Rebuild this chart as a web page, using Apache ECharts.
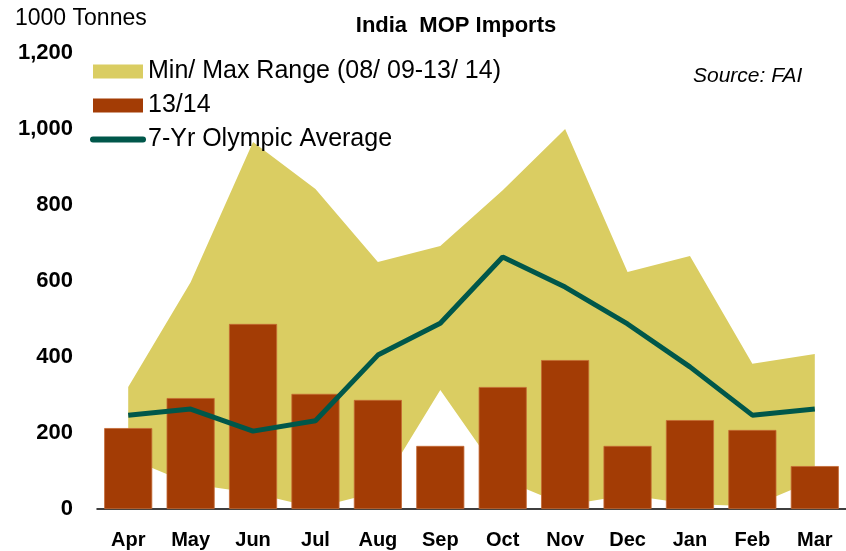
<!DOCTYPE html>
<html>
<head>
<meta charset="utf-8">
<script src="https://cdn.jsdelivr.net/npm/echarts@6/dist/echarts.min.js"></script>
<style>
  html, body { margin: 0; padding: 0; background: #fff; }
  #chart { width: 846px; height: 551px; }
</style>
</head>
<body>
<div id="chart"></div>
<script>
// months of the fertiliser year
const months = ['Apr', 'May', 'Jun', 'Jul', 'Aug', 'Sep', 'Oct', 'Nov', 'Dec', 'Jan', 'Feb', 'Mar']
// min / max range 08/09-13/14 (1000 tonnes)
const rangeMax = [321, 597, 966, 842, 650, 692, 839, 1000, 624, 666, 382, 408]
const rangeMin = [134, 66, 42, 3, 45, 313, 78, 10, 37, 13, 7, 76]
// 13/14 imports
const imports1314 = [213, 292, 487, 303, 287, 166, 321, 392, 166, 234, 208, 113]
// 7-yr olympic average
const olympicAvg = [247, 263, 205, 232, 405, 489, 663, 584, 487, 374, 247, 263]

const rangeName = 'Min/ Max Range (08/ 09-13/ 14)'
const barName = '13/14'
const lineName = '7-Yr Olympic Average'

const rangeSpan = rangeMax.map((v, i) => v - rangeMin[i])

const chart = echarts.init(document.getElementById('chart'))
chart.setOption({
  animation: false,
  textStyle: { fontFamily: 'Liberation Sans, Arial, sans-serif' },
  graphic: [
    {
      type: 'text', left: 15, top: 7,
      style: { text: '1000 Tonnes', font: '23px Liberation Sans', fill: '#000' }
    },
    {
      type: 'text', x: 456, y: 26,
      style: { text: 'India  MOP Imports', font: 'bold 22px Liberation Sans', fill: '#000', align: 'center', verticalAlign: 'middle' }
    },
    {
      type: 'text', x: 693, y: 76,
      style: { text: 'Source: FAI', font: 'italic 21px Liberation Sans', fill: '#000', align: 'left', verticalAlign: 'middle' }
    }
  ],
  legend: {
    orient: 'vertical',
    left: 90,
    top: 59,
    padding: 0,
    itemWidth: 50,
    itemHeight: 14,
    itemGap: 9,
    selectedMode: false,
    textStyle: { fontSize: 25, color: '#000', padding: [0, 0, 0, 0] },
    data: [
      { name: rangeName, icon: 'rect', itemStyle: { borderWidth: 0 } },
      { name: barName, icon: 'rect', itemStyle: { borderWidth: 0 } },
      { name: lineName, itemStyle: { opacity: 0 }, lineStyle: { width: 6, cap: 'round' } }
    ]
  },
  grid: {
    left: 97,
    top: 53,
    width: 752,
    bottom: 42,
    containLabel: false
  },
  xAxis: {
    type: 'category',
    data: months,
    axisLine: { lineStyle: { color: '#000', width: 1.5 } },
    axisTick: { show: false },
    axisLabel: { fontSize: 20, fontWeight: 'bold', color: '#000', margin: 21 }
  },
  yAxis: {
    type: 'value',
    min: 0,
    max: 1200,
    interval: 200,
    splitLine: { show: false },
    axisLine: { show: false },
    axisTick: { show: false },
    axisLabel: {
      fontSize: 22, fontWeight: 'bold', color: '#000', margin: 24,
      formatter: v => v.toLocaleString('en-US')
    }
  },
  series: [
    {
      name: 'rangeBase',
      type: 'line',
      stack: 'range',
      data: rangeMin,
      symbol: 'none',
      lineStyle: { width: 0, opacity: 0 },
      z: 1,
      silent: true
    },
    {
      name: rangeName,
      type: 'line',
      stack: 'range',
      data: rangeSpan,
      symbol: 'none',
      lineStyle: { width: 0, opacity: 0 },
      itemStyle: { color: '#DACD62' },
      areaStyle: { color: '#DACD62', opacity: 1 },
      z: 1,
      silent: true
    },
    {
      name: barName,
      type: 'bar',
      data: imports1314,
      barWidth: '77%',
      itemStyle: { color: '#A33C05', borderColor: '#C46A35', borderWidth: 0.8 },
      z: 2
    },
    {
      name: lineName,
      type: 'line',
      data: olympicAvg,
      symbol: 'none',
      lineStyle: { color: '#00574A', width: 5 },
      itemStyle: { color: '#00574A' },
      z: 3
    }
  ]
})
</script>
</body>
</html>
